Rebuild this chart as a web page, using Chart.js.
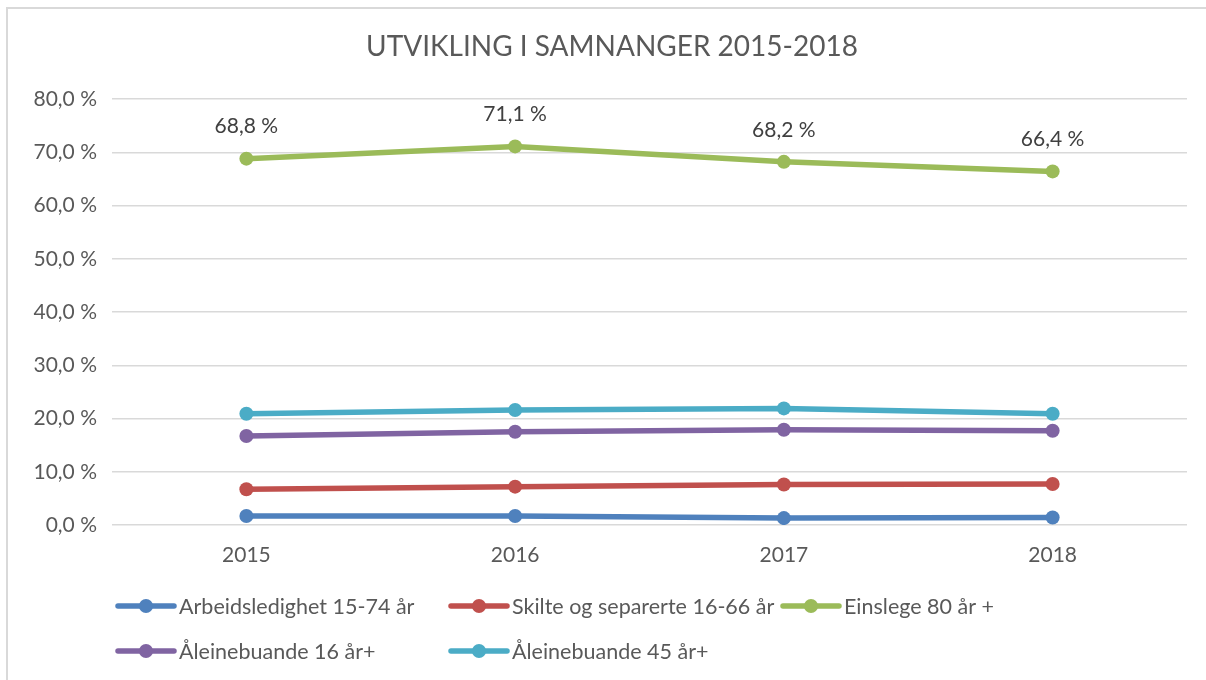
<!DOCTYPE html>
<html>
<head>
<meta charset="utf-8">
<script src="https://cdn.jsdelivr.net/npm/chart.js@4.4.1/dist/chart.umd.min.js"></script>
<style>
  body { margin: 0; background: #fff; }
  #wrap { width: 1206px; height: 680px; position: relative; }
</style>
</head>
<body>
<div id="wrap"><canvas id="chart" width="1206" height="680"></canvas></div>
<script>
// Data
const years = ['2015', '2016', '2017', '2018'];
const arbeidsledighet = [1.7, 1.7, 1.3, 1.4];
const skilte = [6.7, 7.2, 7.6, 7.7];
const einslege = [68.8, 71.1, 68.2, 66.4];
const aleine16 = [16.7, 17.5, 17.9, 17.7];
const aleine45 = [20.9, 21.6, 21.9, 20.9];
const yTicks = [0, 10, 20, 30, 40, 50, 60, 70, 80];

const titleText = 'UTVIKLING I SAMNANGER 2015-2018';
const FONT = 'Lato, "Open Sans", sans-serif';

function pct(v) {
    return v.toFixed(1).replace('.', ',') + ' %';
}

function series(label, data, color) {
    return {
        label: label,
        data: data,
        borderColor: color,
        backgroundColor: color,
        borderWidth: 5.5,
        pointRadius: 7,
        pointHoverRadius: 7,
        pointBorderWidth: 0,
        tension: 0
    };
}

const datasets = [
    series('Arbeidsledighet 15-74 år', arbeidsledighet, '#4f81bd'),
    series('Skilte og separerte 16-66 år', skilte, '#c0504d'),
    series('Einslege 80 år +', einslege, '#9bbb59'),
    series('Åleinebuande 16 år+', aleine16, '#8064a2'),
    series('Åleinebuande 45 år+', aleine45, '#4bacc6')
];

// frame, title, labels for the green line, and the legend
const extras = {
    id: 'extras',
    beforeDraw(chart) {
        const ctx = chart.ctx;
        ctx.save();
        ctx.strokeStyle = '#d9d9d9';
        ctx.lineWidth = 2;
        ctx.beginPath();
        ctx.moveTo(7, 690);
        ctx.lineTo(7, 8);
        ctx.lineTo(1206, 8);
        ctx.stroke();
        ctx.restore();
    },
    afterDraw(chart) {
        const ctx = chart.ctx;
        ctx.save();
        ctx.fillStyle = '#595959';
        ctx.font = '28px ' + FONT;
        ctx.textAlign = 'center';
        ctx.textBaseline = 'middle';
        ctx.fillText(titleText, 612, 47);

        // data labels on Einslege 80 år +
        const meta = chart.getDatasetMeta(2);
        ctx.font = '21px ' + FONT;
        ctx.fillStyle = '#404040';
        meta.data.forEach((pt, i) => {
            ctx.fillText(pct(einslege[i]), pt.x, pt.y - 32);
        });

        // legend
        const spots = [[118, 606], [451, 606], [783, 606], [118, 651], [451, 651]];
        ctx.textAlign = 'left';
        ctx.font = '21.5px ' + FONT;
        chart.data.datasets.forEach((ds, i) => {
            const [x, y] = spots[i];
            ctx.strokeStyle = ds.borderColor;
            ctx.lineWidth = 5.5;
            ctx.lineCap = 'round';
            ctx.beginPath();
            ctx.moveTo(x, y);
            ctx.lineTo(x + 56, y);
            ctx.stroke();
            ctx.fillStyle = ds.borderColor;
            ctx.beginPath();
            ctx.arc(x + 28, y, 7, 0, Math.PI * 2);
            ctx.fill();
            ctx.fillStyle = '#595959';
            ctx.fillText(ds.label, x + 61, y + 1);
        });
        ctx.restore();
    }
};

new Chart(document.getElementById('chart'), {
    type: 'line',
    data: { labels: years, datasets: datasets },
    plugins: [extras],
    options: {
        responsive: false,
        animation: false,
        layout: { padding: { top: 99, right: 19, bottom: 98, left: 0 } },
        plugins: {
            legend: { display: false },
            title: { display: false },
            tooltip: { enabled: false }
        },
        scales: {
            x: {
                offset: true,
                grid: { display: false, drawTicks: false },
                border: { display: false },
                ticks: { color: '#595959', font: { family: FONT, size: 21 }, padding: 18 },
                afterFit(scale) { scale.height = 57; }
            },
            y: {
                min: 0,
                max: 80,
                afterBuildTicks(scale) { scale.ticks = yTicks.map(v => ({ value: v })); },
                grid: { color: '#d9d9d9', lineWidth: 1.5, drawTicks: false },
                border: { display: false },
                ticks: {
                    color: '#595959',
                    font: { family: FONT, size: 21 },
                    padding: 15,
                    callback: v => pct(v)
                },
                afterFit(scale) { scale.width = 112; }
            }
        }
    }
});
</script>
</body>
</html>
